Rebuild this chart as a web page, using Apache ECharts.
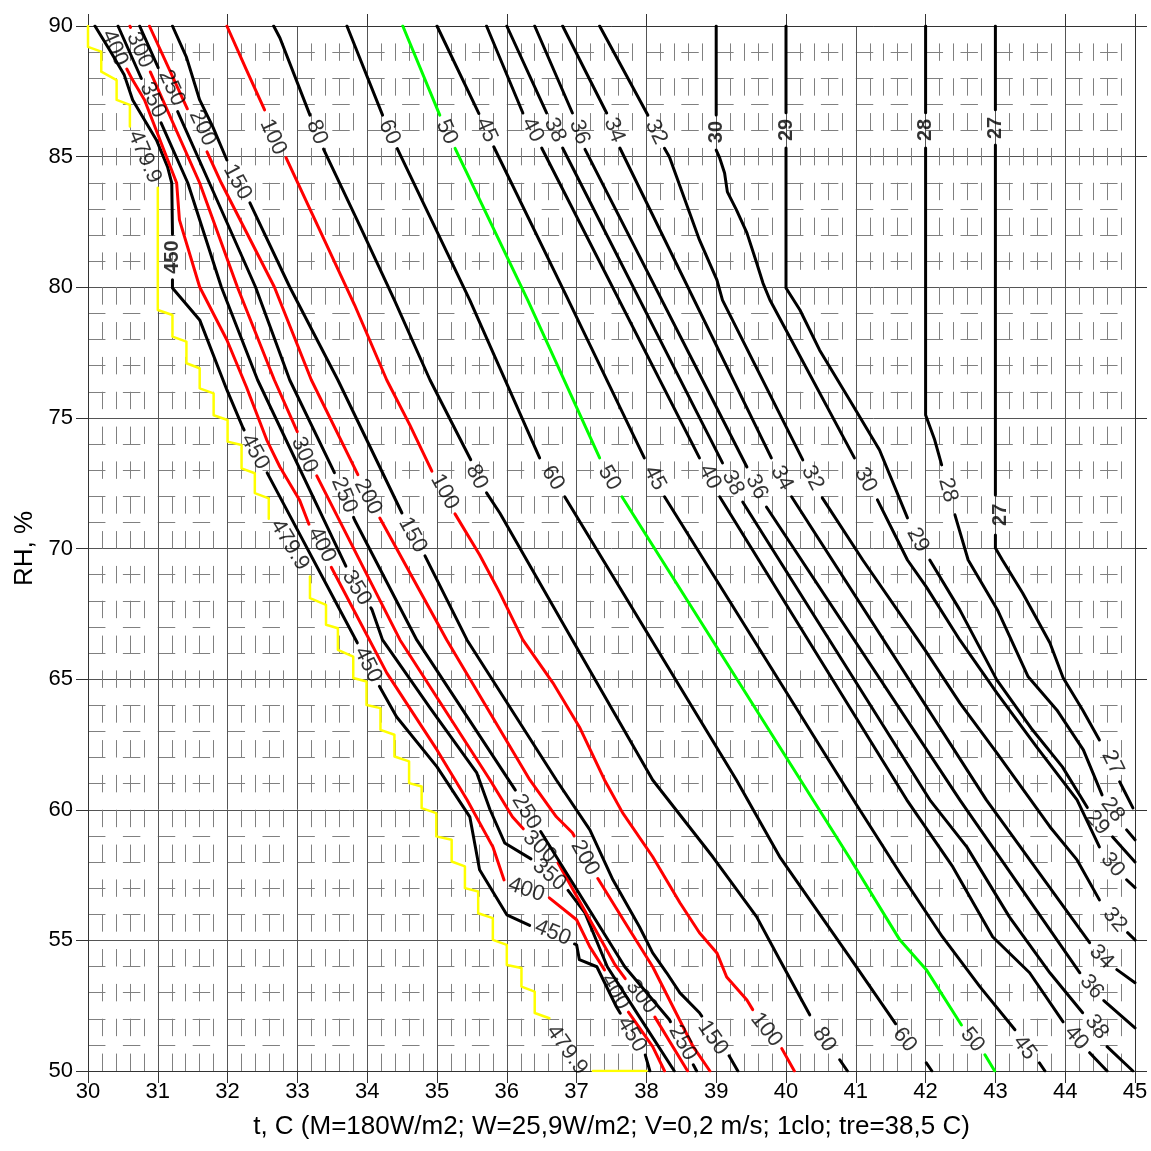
<!DOCTYPE html>
<html><head><meta charset="utf-8">
<script src="https://cdn.jsdelivr.net/npm/echarts/dist/echarts.min.js"></script>
<style>html,body{margin:0;padding:0;background:#fff;}#chart{width:1151px;height:1151px;}</style>
</head><body><div id="chart"></div>
<script>
const xAxisTitle = 't, C (M=180W/m2; W=25,9W/m2; V=0,2 m/s; 1clo; tre=38,5 C)';
const yAxisTitle = 'RH, %';
const FONT = '"Liberation Sans", Arial, sans-serif';

// contour lines: arrays of segments of [t, RH]
const c479_9 = [
 [[30,90],[30,89.2],[30.19,89.02],[30.19,88.25],[30.41,87.93],[30.41,87.17],[30.6,86.98],[30.6,86.15],[30.67,86.08]],
 [[31,84],[31,79.13],[31.21,78.94],[31.21,78.11],[31.41,77.92],[31.41,77.09],[31.6,76.9],[31.6,76.13],[31.8,75.94],[31.8,75.1],[32,74.92],[32,74.09],[32.2,73.96],[32.2,73.07],[32.39,72.88],[32.39,72.12],[32.59,71.92],[32.59,71.09],[32.72,70.97]],
 [[33.18,68.93],[33.18,68.1],[33.41,67.84],[33.41,67.08],[33.58,66.95],[33.58,66.12],[33.8,65.86],[33.8,65.04],[33.99,64.91],[33.99,64.01],[34.19,63.89],[34.19,63.06],[34.39,62.87],[34.39,62.04],[34.6,61.85],[34.6,61.02],[34.78,60.89],[34.78,60.06],[34.99,59.87],[34.99,58.98],[35.21,58.85],[35.21,58.02],[35.4,57.83],[35.4,57.0],[35.59,56.87],[35.59,56.04],[35.8,55.85],[35.8,55.02],[36.0,54.83],[36.0,54.06],[36.21,53.94],[36.21,53.23],[36.4,53.04],[36.4,52.22],[36.61,52.02]],
 [[37.14,50.0],[38.0,50.0]]
];
const c450 = [[[30.10,90],[30.31,89.08],[30.52,88.12],[30.64,87.17],[30.98,85.64],[31.14,84.61],[31.2,83.99],[31.21,82.12],[31.21,79.97],[31.6,78.75],[31.99,76.07],[32.22,74.62],[32.56,72.93],[33.89,66.23],[34.18,64.7],[34.42,63.56],[35.0,61.64],[35.47,59.73],[35.61,57.7],[36.0,55.98],[36.37,55.52],[37.0,54.83],[37.04,54.26],[37.29,53.99],[37.57,52.46],[38.0,50.54],[38.05,50.0]]];
const c400 = [[[30.27,90],[30.45,88.89],[30.64,87.93],[30.81,87.17],[31.27,83.99],[31.31,82.58],[31.6,80.01],[31.99,77.98],[32.27,76.18],[32.56,74.16],[32.75,73.12],[33.03,71.86],[33.18,70.83],[33.49,69.26],[34.28,65.24],[35.0,62.29],[35.43,60.38],[35.8,58.58],[35.97,57.24],[36.59,56.67],[37.0,55.79],[37.19,54.75],[37.4,53.87],[37.72,52.34],[38.09,50.93],[38.26,50.0]]];
const c350 = [[[30.43,90],[31.43,83.99],[31.91,80.01],[32.43,76.45],[33.72,69.18],[34.07,67.65],[34.22,66.5],[34.89,63.94],[35.57,61.41],[35.76,60.0],[35.97,58.73],[36.37,58.08],[36.87,56.94],[37.12,56.05],[37.44,53.99],[37.9,52.07],[38.4,50.0]]];
const c300 = [[[30.6,90],[31.6,83.99],[32.14,80.01],[32.67,76.45],[33.0,74.46],[33.27,72.82],[34.47,66.5],[35.76,61.14],[36.08,59.73],[36.25,59.23],[36.71,58.08],[37.19,55.79],[37.55,54.07],[37.76,53.3],[38.12,52.07],[38.59,50.0]]];
const c250 = [[[30.74,90],[31.74,83.99],[32.4,80.01],[32.89,76.45],[33.56,72.74],[33.82,71.09],[34.71,66.5],[36.14,60.68],[36.47,59.23],[37.69,53.99],[38.33,51.96],[38.72,50.0]]];
const c200 = [[[30.88,90],[31.91,83.99],[32.67,80.01],[33.2,76.45],[33.89,72.7],[34.18,71.17],[35.14,66.5],[36.33,61.14],[36.71,59.73],[36.94,59.12],[37.29,57.43],[37.76,55.4],[38.09,53.99],[38.38,52.46],[38.67,50.93],[38.91,50.0]]];
const c150 = [[[31.21,90],[31.41,88.81],[31.6,87.17],[31.79,86.13],[31.99,84.87],[32.32,83.23],[32.89,80.01],[33.58,76.45],[34.51,71.29],[34.82,69.76],[35.43,66.5],[36.71,61.14],[37.19,59.23],[37.52,57.32],[37.9,55.52],[38.09,54.52],[38.29,53.76],[38.48,52.99],[38.76,52.23],[39.15,50.74],[39.31,50.0]]];
const c100 = [
 [[31.99,90],[32.27,88.32],[32.53,86.79]],
 [[32.82,85.06],[33.32,82.19],[33.82,79.32],[34.28,76.45],[34.61,74.73],[34.94,72.89]],
 [[35.25,71.36],[35.61,69.76],[35.9,68.3],[36.23,66.5],[36.66,64.86],[37.04,63.17],[37.4,61.14],[37.66,59.88],[38.09,58.2],[38.48,56.44],[38.76,55.29],[39.01,54.52],[39.15,53.6],[39.44,52.72],[39.55,52.23]],
 [[39.91,51.0],[40.12,50.0]]
];
const c80 = [
 [[32.66,90],[32.75,89.54],[33.18,86.59]],
 [[33.36,85.37],[33.89,82.38],[34.39,79.51],[34.9,76.45],[35.5,73.31]],
 [[35.71,72.13],[35.9,71.36],[36.94,66.5],[37.62,63.33],[38.09,61.14],[38.95,58.2],[39.58,55.9],[39.91,54.26],[40.34,52.15]],
 [[40.77,50.43],[40.88,50]]
];
const c60 = [
 [[33.71,90],[34.22,86.59]],
 [[34.42,85.37],[35.47,79.51],[36.47,73.47]],
 [[36.83,71.98],[39.29,61.14],[39.91,58.2],[40.91,54.37],[41.63,51.58]],
 [[42.01,50.31],[42.09,50]]
];
const c50 = [
 [[34.51,90],[35.04,86.59]],
 [[35.25,85.37],[36.3,79.51],[37.33,73.47]],
 [[37.65,71.98],[40.91,58.16],[41.63,55.02],[42.01,53.88],[42.53,51.69]],
 [[42.85,50.62],[42.99,50]]
];
const c45 = [
 [[35.0,90],[35.61,86.59]],
 [[35.8,85.45],[36.86,79.63],[37.97,73.47]],
 [[38.26,71.98],[41.01,60.19],[41.63,57.59],[42.24,55.14],[42.78,53.22],[43.28,51.58]],
 [[43.63,50.31],[43.71,50]]
];
const c40 = [
 [[35.71,90],[36.23,86.67]],
 [[36.5,85.33],[38.76,73.47]],
 [[39.05,71.98],[41.73,60.38],[42.39,57.81],[42.96,55.14],[43.49,53.76],[43.97,51.88]],
 [[44.35,50.7],[44.6,50]]
];
const c38 = [
 [[36.0,90],[36.57,86.67]],
 [[36.8,85.33],[39.09,73.28]],
 [[39.38,71.78],[42.06,60.38],[42.59,58.58],[43.2,55.9],[43.78,53.76],[44.25,52.23]],
 [[44.6,50.93],[44.97,50]]
];
const c36 = [
 [[36.4,90],[36.94,86.67]],
 [[37.11,85.33],[39.44,73.12]],
 [[39.72,71.59],[42.49,60.38],[44.21,53.76]],
 [[44.54,52.73],[45,51.65]]
];
const c34 = [
 [[36.8,90],[37.43,86.67]],
 [[37.62,85.33],[39.79,73.47]],
 [[40.08,71.98],[42.87,60.38],[44.35,54.91]],
 [[44.74,53.88],[45,53.38]]
];
const c32 = [
 [[37.33,90],[38.02,86.59]],
 [[38.23,85.45],[38.33,84.99],[38.76,81.81],[39.01,80.28],[39.09,79.51],[40.24,73.39]],
 [[40.52,71.94],[41.1,69.56],[41.99,66.12],[42.49,64.09],[43.02,62.18],[43.78,59.35],[44.17,58.08],[44.49,56.55]],
 [[44.88,55.33],[45,55.02]]
];
const c30 = [
 [[39,90],[39,86.59]],
 [[39,85.25],[39.05,84.95],[39.12,84.37],[39.16,83.65],[39.29,82.96],[39.44,82.08],[39.58,80.93],[39.67,80.16],[39.77,79.51],[40.98,73.47]],
 [[41.31,71.86],[41.74,69.56],[42.01,68.53],[42.49,66.5],[43.02,64.47],[43.59,62.41],[44.17,60.38],[44.49,58.58]],
 [[44.88,57.32],[45,57.02]]
];
const c29 = [
 [[40,90],[40,86.67]],
 [[40,85.33],[40,79.97],[40.2,79.13],[40.48,77.6],[40.91,75.69],[41.34,73.77],[41.74,71.17]],
 [[42.06,69.56],[42.49,67.65],[43.02,64.97],[43.53,63.06],[43.96,61.64],[44.32,60.07]],
 [[44.68,58.96],[45,58.0]]
];
const c28 = [
 [[42,90],[42,86.67]],
 [[42,85.33],[42,75.11],[42.13,74.16],[42.23,73.2]],
 [[42.42,71.29],[42.61,69.56],[43.03,67.65],[43.47,65.09],[43.88,63.82],[44.26,62.29],[44.54,60.49]],
 [[44.88,59.23],[45,58.85]]
];
const c27 = [
 [[43,90],[43,86.79]],
 [[43,85.45],[43,72.05]],
 [[43,70.52],[43,70.02],[43.1,69.56],[43.39,68.3],[43.78,66.39],[43.97,65.05],[44.25,63.82],[44.49,62.67]],
 [[44.78,61.07],[44.97,60.07]]
];

// label anchor positions [t, RH]
const l479_9 = [[30.81,84.99],[32.89,70.14],[36.86,50.81]];
const l450 = [[31.21,81.16],[32.39,73.7],[34.01,65.55],[36.66,55.29],[37.79,51.39]];
const l400 = [[30.38,89.16],[33.35,70.14],[36.28,56.94],[37.55,53.03]];
const l350 = [[30.93,87.17],[33.85,68.49],[36.61,57.51]];
const l300 = [[30.74,89.08],[33.1,73.58],[36.47,58.58],[37.93,52.84]];
const l250 = [[31.2,87.63],[33.67,72.05],[36.28,59.92],[38.52,51.08]];
const l200 = [[31.64,86.1],[34.01,71.98],[37.12,58.16]];
const l150 = [[32.14,84.03],[34.65,70.52],[38.95,51.27]];
const l100 = [[32.65,85.75],[35.11,72.17],[39.72,51.58]];
const l80 = [[33.28,85.94],[35.57,72.74],[40.55,51.2]];
const l60 = [[34.32,85.94],[36.66,72.7],[41.7,51.2]];
const l50 = [[35.14,85.94],[37.47,72.7],[42.67,51.2]];
const l45 = [[35.71,86.02],[38.12,72.7],[43.42,50.89]];
const l40 = [[36.37,86.02],[38.91,72.74],[44.16,51.27]];
const l38 = [[36.69,86.02],[39.24,72.51],[44.45,51.69]];
const l36 = [[37.04,85.94],[39.58,72.36],[44.38,53.22]];
const l34 = [[37.54,86.02],[39.94,72.7],[44.52,54.37]];
const l32 = [[38.14,85.94],[40.38,72.7],[44.71,55.79]];
const l30 = [[39.0,85.94],[41.14,72.63],[44.68,57.89]];
const l29 = [[40.0,86.02],[41.89,70.33],[44.46,59.5]];
const l28 = [[42.0,86.02],[42.32,72.24],[44.68,60.0]];
const l27 = [[43.0,86.1],[43.07,71.29],[44.68,61.8]];

const RED = '#ff0000', BLACK = '#000000', GREEN = '#00ff00', YELLOW = '#ffff00';
const contours = [
 {level:'479.9', color:YELLOW, segs:c479_9, labels:l479_9},
 {level:'450', color:BLACK, segs:c450, labels:l450},
 {level:'400', color:RED, segs:c400, labels:l400},
 {level:'350', color:BLACK, segs:c350, labels:l350},
 {level:'300', color:RED, segs:c300, labels:l300},
 {level:'250', color:BLACK, segs:c250, labels:l250},
 {level:'200', color:RED, segs:c200, labels:l200},
 {level:'150', color:BLACK, segs:c150, labels:l150},
 {level:'100', color:RED, segs:c100, labels:l100},
 {level:'80', color:BLACK, segs:c80, labels:l80},
 {level:'60', color:BLACK, segs:c60, labels:l60},
 {level:'50', color:GREEN, segs:c50, labels:l50},
 {level:'45', color:BLACK, segs:c45, labels:l45},
 {level:'40', color:BLACK, segs:c40, labels:l40},
 {level:'38', color:BLACK, segs:c38, labels:l38},
 {level:'36', color:BLACK, segs:c36, labels:l36},
 {level:'34', color:BLACK, segs:c34, labels:l34},
 {level:'32', color:BLACK, segs:c32, labels:l32},
 {level:'30', color:BLACK, segs:c30, labels:l30},
 {level:'29', color:BLACK, segs:c29, labels:l29},
 {level:'28', color:BLACK, segs:c28, labels:l28},
 {level:'27', color:BLACK, segs:c27, labels:l27}
];

const LABEL_SIZE = 22;
const chart = echarts.init(document.getElementById('chart'), null, {renderer:'canvas'});
const GRID = {left:88, top:26, width:1047, height:1045};
const DASH_X = 1047/60, DASH_Y = 1045/60;

const axisLabelStyle = {color:'#000', fontSize:22, fontFamily:FONT};
const option = {
  animation:false,
  backgroundColor:'#ffffff',
  grid: GRID,
  xAxis: [
    {type:'value', min:30, max:45, interval:1, position:'bottom',
     name:xAxisTitle, nameLocation:'middle', nameGap:43,
     nameTextStyle:{color:'#000', fontSize:26, fontFamily:FONT},
     axisLine:{show:true, onZero:false, lineStyle:{color:'#333', width:1}},
     axisTick:{show:true, inside:false, length:12, lineStyle:{color:'#333'}},
     axisLabel:Object.assign({margin:10}, axisLabelStyle),
     splitLine:{show:true, lineStyle:{color:'#555', width:1}},
     minorTick:{show:false, splitNumber:5},
     minorSplitLine:{show:true, lineStyle:{color:'#808080', width:1, type:[DASH_Y, DASH_Y], dashOffset:DASH_Y}}
    },
    {type:'value', min:30, max:45, interval:2, position:'top',
     axisLine:{show:true, onZero:false, lineStyle:{color:'#333', width:1}},
     axisTick:{show:true, inside:false, length:12, lineStyle:{color:'#333'}},
     axisLabel:{show:false}, splitLine:{show:false}}
  ],
  yAxis: [
    {type:'value', min:50, max:90, interval:5, position:'left',
     name:yAxisTitle, nameLocation:'middle', nameGap:47,
     nameTextStyle:{color:'#000', fontSize:26, fontFamily:FONT},
     axisLine:{show:true, onZero:false, lineStyle:{color:'#333', width:1}},
     axisTick:{show:true, inside:false, length:12, lineStyle:{color:'#333'}},
     axisLabel:Object.assign({margin:15}, axisLabelStyle),
     splitLine:{show:true, lineStyle:{color:'#555', width:1}},
     minorTick:{show:false, splitNumber:5},
     minorSplitLine:{show:true, lineStyle:{color:'#808080', width:1, type:[DASH_X, DASH_X], dashOffset:0}}
    },
    {type:'value', min:50, max:90, interval:5, position:'right',
     axisLine:{show:true, onZero:false, lineStyle:{color:'#333', width:1}},
     axisTick:{show:true, inside:false, length:12, lineStyle:{color:'#333'}},
     axisLabel:{show:false}, splitLine:{show:false}}
  ],
  series: []
};
chart.setOption(option);

const toPx = p => chart.convertToPixel({gridIndex:0}, p);
const toData = p => chart.convertFromPixel({gridIndex:0}, p);

const measureCtx = document.createElement('canvas').getContext('2d');
function textWidth(txt, size, weight) {
  measureCtx.font = (weight || 'normal') + ' ' + size + 'px ' + FONT;
  return measureCtx.measureText(txt).width;
}

function labelAngle(segs, lab) {
  const pts = [].concat(...segs).map(toPx);
  const q = toPx(lab);
  let best = Infinity, ang = 0;
  for (let i = 0; i < pts.length - 1; i++) {
    const a = pts[i], b = pts[i+1];
    const dx = b[0]-a[0], dy = b[1]-a[1];
    const L2 = dx*dx + dy*dy; if (!L2) continue;
    let u = ((q[0]-a[0])*dx + (q[1]-a[1])*dy)/L2; u = Math.max(0, Math.min(1, u));
    const ex = a[0]+u*dx-q[0], ey = a[1]+u*dy-q[1];
    const d = ex*ex + ey*ey;
    if (d < best) { best = d; ang = Math.atan2(-dy, dx)*180/Math.PI; }
  }
  if (ang <= -90) ang += 180;
  if (ang > 90) ang -= 180;
  return ang;
}

// break a pixel polyline where it passes under its own labels
function cutPolyline(pts, circles) {
  const out = []; let cur = [];
  for (let i = 0; i < pts.length - 1; i++) {
    const a = pts[i], b = pts[i+1];
    const dx = b[0]-a[0], dy = b[1]-a[1];
    const A = dx*dx + dy*dy;
    const hid = [];
    if (A > 0) circles.forEach(c => {
      const fx = a[0]-c.x, fy = a[1]-c.y;
      const B = 2*(fx*dx + fy*dy), C = fx*fx + fy*fy - c.r*c.r;
      const D = B*B - 4*A*C;
      if (D <= 0) return;
      const s = Math.sqrt(D);
      const u1 = Math.max(0, (-B - s)/(2*A)), u2 = Math.min(1, (-B + s)/(2*A));
      if (u1 < u2) hid.push([u1, u2]);
    });
    hid.sort((p, q) => p[0]-q[0]);
    const vis = []; let s0 = 0;
    hid.forEach(h => { if (h[0] > s0) vis.push([s0, h[0]]); s0 = Math.max(s0, h[1]); });
    if (s0 < 1) vis.push([s0, 1]);
    const lerp = u => [a[0]+u*dx, a[1]+u*dy];
    vis.forEach(v => {
      if (v[0] > 1e-9 || cur.length === 0) { if (cur.length > 1) out.push(cur); cur = [lerp(v[0])]; }
      cur.push(lerp(v[1]));
      if (v[1] < 1 - 1e-9) { if (cur.length > 1) out.push(cur); cur = []; }
    });
    if (vis.length === 0) { if (cur.length > 1) out.push(cur); cur = []; }
  }
  if (cur.length > 1) out.push(cur);
  return out;
}

const lineSeries = [];
const labelData = [];
contours.forEach(c => {
  const circles = [];
  c.labels.forEach(p => {
    const ang = labelAngle(c.segs, p);
    const vertical = Math.abs(ang) > 80;
    const size = vertical ? 20 : LABEL_SIZE;
    const weight = vertical ? 'bold' : 'normal';
    const w = textWidth(c.level, size, weight);
    const q = toPx(p);
    circles.push({x:q[0], y:q[1], r:w/2 + 6});
    labelData.push({value:[p[0], p[1]], name:c.level,
      label:{rotate:ang, fontSize:size, fontWeight:weight}});
  });
  c.segs.forEach(seg => {
    cutPolyline(seg.map(toPx), circles).forEach(piece => {
      lineSeries.push({
        type:'line', data:piece.map(toData), xAxisIndex:0, yAxisIndex:0,
        symbol:'none', silent:true, animation:false, z:3,
        lineStyle:{color:c.color, width:c.color === YELLOW ? 2.5 : 3, cap:'round', join:'round'}
      });
    });
  });
});

chart.setOption({series: lineSeries.concat([{
  type:'scatter', data:labelData, symbolSize:1, silent:true, z:5,
  itemStyle:{color:'rgba(0,0,0,0)'},
  label:{show:true, position:'inside', formatter:'{b}', color:'#000', fontSize:LABEL_SIZE, fontFamily:FONT}
}])});
</script>
</body></html>
